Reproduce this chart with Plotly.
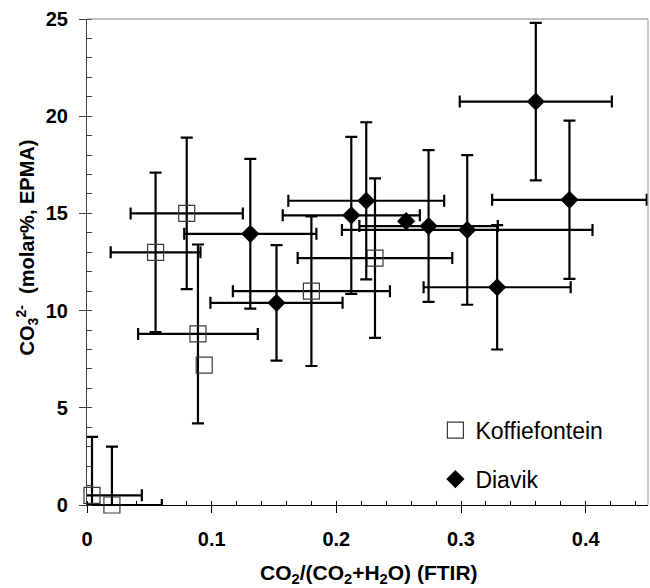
import plotly.graph_objects as go

# ---- data ----
kof_name = "Koffiefontein"
kof_x = [0.080, 0.055, 0.089, 0.094, 0.180, 0.231, 0.004, 0.020]
kof_y = [15.0, 13.0, 8.8, 7.2, 11.0, 12.7, 0.5, 0.0]
kof_xerr = [0.045, 0.036, 0.048, None, 0.063, 0.062, 0.040, 0.040]
kof_yerr = [3.9, 4.1, 4.6, None, 3.85, 4.1, 3.0, 3.0]

dia_name = "Diavik"
dia_x = [0.131, 0.152, 0.212, 0.224, 0.256, 0.274, 0.305, 0.329, 0.360, 0.387]
dia_y = [13.95, 10.4, 14.9, 15.65, 14.6, 14.35, 14.15, 11.2, 20.75, 15.7]
dia_xerr = [0.053, 0.053, 0.055, 0.0625, None, 0.0555, 0.1005, 0.059, 0.061, 0.062]
dia_yerr = [3.85, 2.97, 4.04, 4.04, None, 3.9, 3.85, 3.2, 4.05, 4.07]

x_major = [0, 0.1, 0.2, 0.3, 0.4]
x_labels = ["0", "0.1", "0.2", "0.3", "0.4"]
y_major = [0, 5, 10, 15, 20, 25]
y_labels = ["0", "5", "10", "15", "20", "25"]

x_title = "CO<sub>2</sub>/(CO<sub>2</sub>+H<sub>2</sub>O) (FTIR)"
y_title = "CO<sub>3</sub><sup>2-</sup>  (molar%, EPMA)"

FONT = "Liberation Sans, Arial, sans-serif"


def ebar(arr):
    return dict(type="data", array=arr, symmetric=True, visible=True,
                color="black", thickness=2.2, width=6)


def with_errors(xs, ys, xe, ye):
    idx = [i for i in range(len(xs)) if xe[i] is not None and ye[i] is not None]
    return ([xs[i] for i in idx], [ys[i] for i in idx],
            [xe[i] for i in idx], [ye[i] for i in idx])


fig = go.Figure()

# Koffiefontein: error bars (clipped), then markers (unclipped)
kx, ky, kxe, kye = with_errors(kof_x, kof_y, kof_xerr, kof_yerr)
fig.add_trace(go.Scatter(x=kx, y=ky, mode="markers",
                         marker=dict(size=16, opacity=0),
                         error_x=ebar(kxe), error_y=ebar(kye),
                         showlegend=False, hoverinfo="skip"))
fig.add_trace(go.Scatter(x=kof_x, y=kof_y, mode="markers", name=kof_name,
                         legendgroup="k", cliponaxis=False,
                         marker=dict(symbol="square-open", size=16, color="#3a3a3a",
                                     line=dict(width=1.2, color="#3a3a3a"))))
# Diavik
dx, dy, dxe, dye = with_errors(dia_x, dia_y, dia_xerr, dia_yerr)
fig.add_trace(go.Scatter(x=dx, y=dy, mode="markers",
                         marker=dict(size=14, opacity=0),
                         error_x=ebar(dxe), error_y=ebar(dye),
                         showlegend=False, hoverinfo="skip"))
fig.add_trace(go.Scatter(x=dia_x, y=dia_y, mode="markers", name=dia_name,
                         legendgroup="d", cliponaxis=False,
                         marker=dict(symbol="diamond", size=14, color="black",
                                     line=dict(width=0))))

xr = [0, 0.45]
yr = [0, 25]

fig.update_layout(
    width=650, height=588,
    margin=dict(l=87, r=2, t=19, b=83, autoexpand=False),
    paper_bgcolor="white", plot_bgcolor="white",
    font=dict(family=FONT, color="black"),
    showlegend=True,
    legend=dict(x=0.621, y=0.198, xanchor="left", yanchor="top",
                bgcolor="rgba(0,0,0,0)", borderwidth=0,
                font=dict(family=FONT, size=23, color="black"),
                tracegroupgap=16, itemwidth=30),
    xaxis=dict(range=xr, tickvals=x_major, ticktext=x_labels,
               ticks="outside", ticklen=7, tickwidth=1.2, tickcolor="black",
               minor=dict(dtick=0.02, ticks="inside", ticklen=4, tickcolor="black", tickwidth=1),
               showline=True, linecolor="black", linewidth=1.4,
               showgrid=False, zeroline=False,
               tickfont=dict(family=FONT, size=20, weight="bold"),
               ticklabelstandoff=9),
    yaxis=dict(range=yr, tickvals=y_major, ticktext=y_labels,
               ticks="outside", ticklen=7, tickwidth=1.2, tickcolor="#404040",
               minor=dict(dtick=1, ticks="inside", ticklen=5, tickcolor="#404040", tickwidth=1),
               showline=True, linecolor="#404040", linewidth=1.2,
               showgrid=False, zeroline=False,
               tickfont=dict(family=FONT, size=20, weight="bold"),
               ticklabelstandoff=7),
    xaxis2=dict(overlaying="x", anchor="y", side="bottom", range=xr,
                tickvals=x_major, ticks="inside", ticklen=6, tickwidth=1.2,
                tickcolor="black", showticklabels=False, showgrid=False,
                zeroline=False, showline=False),
    yaxis2=dict(overlaying="y", anchor="x", side="left", range=yr,
                tickvals=y_major, ticks="inside", ticklen=6, tickwidth=1.2,
                tickcolor="#404040", showticklabels=False, showgrid=False,
                zeroline=False, showline=False),
    shapes=[
        dict(type="line", xref="paper", yref="paper", x0=0, x1=1, y0=1, y1=1,
             line=dict(color="#808080", width=1.2)),
        dict(type="line", xref="paper", yref="paper", x0=1, x1=1, y0=0, y1=1,
             line=dict(color="#a8a8a8", width=1.2)),
    ],
    annotations=[
        dict(text=x_title, xref="paper", yref="paper", x=0.503, y=-0.143,
             xanchor="center", yanchor="middle", showarrow=False,
             font=dict(family=FONT, size=21, weight="bold", color="black")),
        dict(text=y_title, xref="paper", yref="paper", x=-0.107, y=0.53,
             xanchor="center", yanchor="middle", textangle=-90, showarrow=False,
             font=dict(family=FONT, size=20, weight="bold", color="black")),
    ],
)

fig.write_html("out.html", config={"displayModeBar": False},
               post_script="document.body.style.margin='0';document.body.style.overflow='hidden';")
